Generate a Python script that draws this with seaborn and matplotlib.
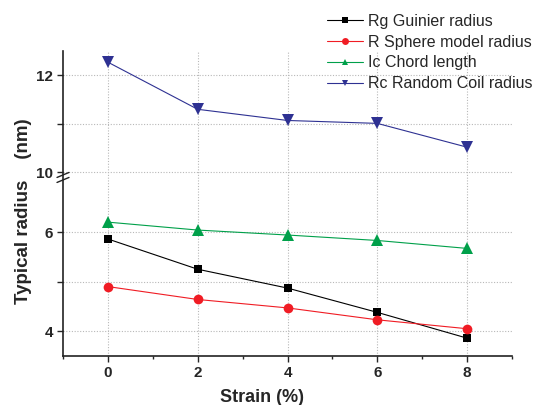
import numpy as np
import pandas as pd
import matplotlib
matplotlib.use("Agg")
import matplotlib.pyplot as plt
from matplotlib.lines import Line2D
from matplotlib.ticker import FixedLocator, NullFormatter, FixedFormatter
import seaborn as sns

# ---- data -------------------------------------------------------------
strain = [0, 2, 4, 6, 8]
rg_guinier = [5.86, 5.25, 4.87, 4.38, 3.86]
r_sphere = [4.90, 4.64, 4.47, 4.23, 4.05]
ic_chord = [6.20, 6.04, 5.94, 5.83, 5.67]
rc_coil = [12.27, 11.30, 11.07, 11.01, 10.52]

series_names = ["Rg Guinier radius", "R Sphere model radius",
                "Ic Chord length", "Rc Random Coil radius"]
y_major = [4, 6, 10, 12]
y_minor = [5, 11]
x_major = [0, 2, 4, 6, 8]
x_minor = [-1, 1, 3, 5, 7, 9]

df = pd.concat([
    pd.DataFrame({"strain": strain, "radius": vals, "series": name})
    for name, vals in zip(series_names, [rg_guinier, r_sphere, ic_chord, rc_coil])
], ignore_index=True)

colors = ["#000000", "#f01c24", "#00a04a", "#2e3192"]
markers = ["s", "o", "^", "v"]
marker_sizes = [6, 7, 8, 8]

# ---- style ------------------------------------------------------------
sns.set_style("ticks")
plt.rcParams["font.family"] = ["Liberation Sans", "DejaVu Sans"]

fig = plt.figure(figsize=(5.37, 4.05), dpi=100)
W, H = 537, 405
ax = fig.add_axes([63 / W, 49 / H, 449 / W, 305 / H])

# broken y axis: 3.5-7 and 10-12.5, with a short gap in between
LOW_TOP, HIGH_BOT = 7.0, 10.0
K_LOW, K_HIGH, GAP = 49.5, 48.5, 10.0


def fwd(y):
    y = np.asarray(y, dtype=float)
    return np.where(
        y <= LOW_TOP, y * K_LOW,
        np.where(y >= HIGH_BOT,
                 LOW_TOP * K_LOW + GAP + (y - HIGH_BOT) * K_HIGH,
                 LOW_TOP * K_LOW + (y - LOW_TOP) * GAP / (HIGH_BOT - LOW_TOP)))


def inv(v):
    v = np.asarray(v, dtype=float)
    a = LOW_TOP * K_LOW
    b = a + GAP
    return np.where(
        v <= a, v / K_LOW,
        np.where(v >= b, HIGH_BOT + (v - b) / K_HIGH,
                 LOW_TOP + (v - a) * (HIGH_BOT - LOW_TOP) / GAP))


ax.set_yscale("function", functions=(fwd, inv))

for name, c, m, ms in zip(series_names, colors, markers, marker_sizes):
    sub = df[df["series"] == name]
    sns.lineplot(data=sub, x="strain", y="radius", ax=ax, color=c,
                 linewidth=0.8, marker=m, markersize=ms, markeredgewidth=0,
                 label=name, zorder=3)

ax.set_xlim(-1, 9)
ax.set_ylim(3.5, 12.5)

ax.xaxis.set_major_locator(FixedLocator(x_major))
ax.xaxis.set_minor_locator(FixedLocator(x_minor))
ax.xaxis.set_minor_formatter(NullFormatter())
ax.yaxis.set_major_locator(FixedLocator(y_major))
ax.yaxis.set_major_formatter(FixedFormatter([str(v) for v in y_major]))
ax.yaxis.set_minor_locator(FixedLocator(y_minor))
ax.yaxis.set_minor_formatter(NullFormatter())

ax.tick_params(axis="both", which="major", length=4, width=1.0,
               labelsize=11, pad=3, direction="out")
ax.tick_params(axis="y", which="minor", length=4, width=1.0, direction="out")
ax.tick_params(axis="x", which="minor", length=2.5, width=1.0, direction="out")
for lab in ax.get_xticklabels() + ax.get_yticklabels():
    lab.set_fontweight("bold")

ax.grid(True, axis="x", which="major", color="#b8b8b8",
        linestyle=(0, (1, 1.5)), linewidth=0.8)
ax.grid(True, axis="y", which="both", color="#b8b8b8",
        linestyle=(0, (1, 1.5)), linewidth=0.8)
ax.set_axisbelow(True)

for side in ["top", "right"]:
    ax.spines[side].set_visible(False)
for side in ["left", "bottom"]:
    ax.spines[side].set_linewidth(1.2)
    ax.spines[side].set_color("#222222")

ax.set_xlabel("Strain (%)", fontsize=13, fontweight="bold")
ax.set_ylabel("Typical radius    (nm)", fontsize=13.5, fontweight="bold")
ax.xaxis.set_label_coords(0.443, -0.108)
ax.yaxis.set_label_coords(-0.068, 0.475)

# break marks "//" on the left spine, just below the upper segment
fig.canvas.draw()
x0, ymid = ax.transData.transform((-1, (LOW_TOP + HIGH_BOT) / 2))
inv_fig = fig.transFigure.inverted()
for dy in (-2.5, 2.5):
    p1 = inv_fig.transform((x0 - 6, ymid + dy - 2.5))
    p2 = inv_fig.transform((x0 + 6, ymid + dy + 2.5))
    fig.add_artist(Line2D([p1[0], p2[0]], [p1[1], p2[1]],
                          color="#222222", linewidth=1.0))

leg = ax.legend(loc="upper left", bbox_to_anchor=(327 / W, 1 - 14 / H),
                bbox_transform=fig.transFigure, frameon=False,
                fontsize=11.5, handlelength=2.25, handletextpad=0.3,
                labelspacing=0.36, borderpad=0, borderaxespad=0)
for line in leg.get_lines():
    line.set_linewidth(0.8)
    line.set_markersize(5)

fig.savefig("out.png", dpi=100)
